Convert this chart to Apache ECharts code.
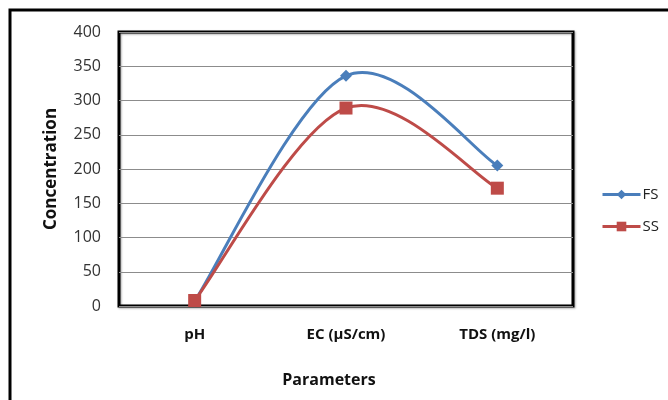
<!DOCTYPE html>
<html>
<head>
<meta charset="utf-8">
<script src="https://cdn.jsdelivr.net/npm/echarts@6/dist/echarts.min.js"></script>
<style>
  html, body {margin: 0; padding: 0; background: #fff;}
  #chart {width: 668px; height: 400px;}
</style>
</head>
<body>
<div id="chart"></div>
<script>
var categories = ['pH', 'EC (µS/cm)', 'TDS (mg/l)'];
var fsValues = [7, 336, 205];
var ssValues = [8, 289, 172];
var yTicks = [0, 50, 100, 150, 200, 250, 300, 350, 400];

var blue = '#4a7ebb';
var red = '#be4b48';
var font = 'Open Sans';

// excel style smoothed curve: one bezier segment per point pair
function curveRenderer(values, color) {
  return function (params, api) {
    var i = params.dataIndex;
    var n = values.length;
    if (i >= n - 1) return null;
    function pt(j) {
      j = Math.max(0, Math.min(n - 1, j));
      return api.coord([j, values[j]]);
    }
    var p0 = pt(i - 1), p1 = pt(i), p2 = pt(i + 1), p3 = pt(i + 2);
    return {
      type: 'bezierCurve',
      shape: {
        x1: p1[0], y1: p1[1],
        x2: p2[0], y2: p2[1],
        cpx1: p1[0] + (p2[0] - p0[0]) / 6,
        cpy1: p1[1] + (p2[1] - p0[1]) / 6,
        cpx2: p2[0] - (p3[0] - p1[0]) / 6,
        cpy2: p2[1] - (p3[1] - p1[1]) / 6
      },
      style: {fill: 'none', stroke: color, lineWidth: 3}
    };
  };
}

function withIndex(values) {
  return values.map(function (v, i) { return [i, v]; });
}

var chart = echarts.init(document.getElementById('chart'));
chart.setOption({
  animation: false,
  backgroundColor: '#fff',
  graphic: [{
    type: 'rect',
    shape: {x: 10, y: 10, width: 700, height: 420},
    style: {fill: 'none', stroke: '#000', lineWidth: 3},
    silent: true
  }],
  grid: {
    left: 119, top: 32, width: 454, height: 274,
    show: true,
    borderColor: '#000',
    borderWidth: 3,
    shadowColor: 'rgba(0,0,0,0.35)',
    shadowBlur: 2,
    shadowOffsetX: 1,
    shadowOffsetY: 1
  },
  legend: {
    orient: 'vertical',
    left: 596, top: 182,
    itemGap: 17,
    itemWidth: 38, itemHeight: 12,
    textStyle: {fontFamily: font, fontSize: 15, color: '#222', padding: [0, 0, 0, -3]},
    data: [
      {name: 'FS', lineStyle: {opacity: 1, width: 3, color: blue}},
      {name: 'SS', lineStyle: {opacity: 1, width: 3, color: red}}
    ]
  },
  xAxis: {
    type: 'category',
    data: categories,
    boundaryGap: true,
    axisLine: {show: false},
    axisTick: {show: false},
    axisLabel: {margin: 21, fontFamily: font, fontWeight: 'bold', fontSize: 15, color: '#111'},
    name: 'Parameters',
    nameLocation: 'middle',
    nameGap: 66,
    nameTextStyle: {fontFamily: font, fontWeight: 'bold', fontSize: 16, color: '#111', padding: [0, 34, 0, 0]}
  },
  yAxis: {
    type: 'value',
    min: yTicks[0],
    max: yTicks[yTicks.length - 1],
    interval: 50,
    axisLine: {show: false},
    axisTick: {show: false},
    splitLine: {lineStyle: {color: '#8c8c8c', width: 1}},
    axisLabel: {margin: 18, fontFamily: font, fontSize: 16, color: '#333'},
    name: 'Concentration',
    nameLocation: 'middle',
    nameGap: 59,
    nameTextStyle: {fontFamily: font, fontWeight: 'bold', fontSize: 17, color: '#111'}
  },
  series: [
    {
      type: 'custom',
      name: 'FS curve',
      data: withIndex(fsValues),
      renderItem: curveRenderer(fsValues, blue),
      z: 2,
      silent: true
    },
    {
      type: 'custom',
      name: 'SS curve',
      data: withIndex(ssValues),
      renderItem: curveRenderer(ssValues, red),
      z: 2,
      silent: true
    },
    {
      name: 'FS',
      type: 'line',
      data: fsValues,
      symbol: 'diamond',
      symbolSize: 12,
      color: blue,
      lineStyle: {width: 3, color: blue, opacity: 0},
      itemStyle: {color: blue},
      z: 3
    },
    {
      name: 'SS',
      type: 'line',
      data: ssValues,
      symbol: 'rect',
      symbolSize: 13,
      color: red,
      lineStyle: {width: 3, color: red, opacity: 0},
      itemStyle: {color: red},
      z: 4
    }
  ]
});
</script>
</body>
</html>
